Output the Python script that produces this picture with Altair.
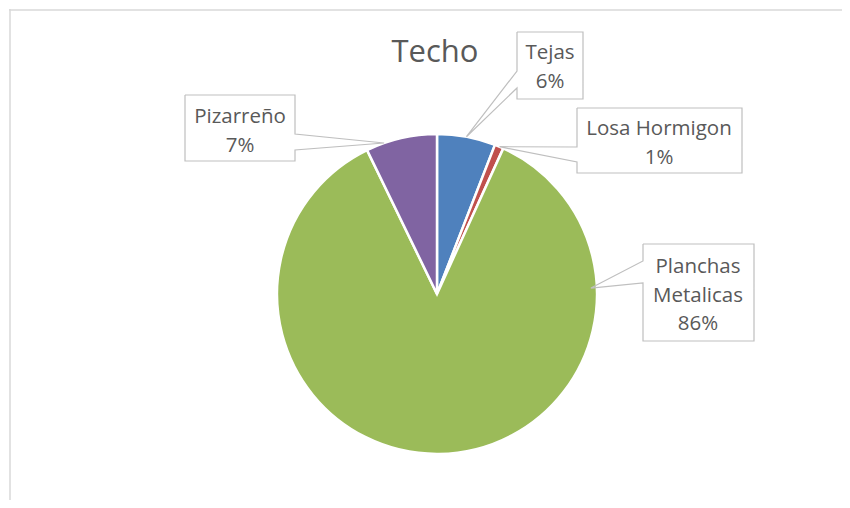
import math
import altair as alt
import pandas as pd

# ---- data ----
categories = ["Tejas", "Losa Hormigon", "Planchas Metalicas", "Pizarreño"]
values = [5.9, 0.9, 86.0, 7.2]
colors = ["#4F81BD", "#C0504D", "#9BBB59", "#8064A2"]
label_names = [["Tejas"], ["Losa Hormigon"], ["Planchas", "Metalicas"], ["Pizarreño"]]
title_text = "Techo"

# ---- layout (chart pixel coordinates) ----
W, H = 834, 492
CX, CY, R = 428, 285, 160
FONT = "Open Sans"
TXT = "#595959"
BOX = "#BFBFBF"
LINE_GAP = 28.5
layout = {
    "Tejas": dict(x0=508, x1=574, y0=23, y1=90, side="left", a=(62, 79), ang=10.6, r=160, base=50, cx=541),
    "Losa Hormigon": dict(x0=568, x1=733, y0=99, y1=164, side="left", a=(138, 153), ang=23.0, r=160, base=126, cx=650),
    "Planchas Metalicas": dict(x0=634, x1=745, y0=235, y1=332, side="left", a=(252, 274), ang=87.8, r=154, base=264, cx=689),
    "Pizarreño": dict(x0=176, x1=286, y0=86, y1=152, side="right", a=(125, 141), ang=340.7, r=160, base=114, cx=231),
}

total = sum(values)
pie_df = pd.DataFrame({"category": categories, "value": values, "idx": list(range(len(categories)))})

# callout outlines
path_rows = []
text_rows = []
for cat, val, names in zip(categories, values, label_names):
    L = layout[cat]
    ax = CX + L["r"] * math.sin(math.radians(L["ang"]))
    ay = CY - L["r"] * math.cos(math.radians(L["ang"]))
    x0, x1, y0, y1 = L["x0"], L["x1"], L["y0"], L["y1"]
    a1, a2 = L["a"]
    if L["side"] == "left":
        pts = [(x0, y0), (x1, y0), (x1, y1), (x0, y1), (x0, a2), (ax, ay), (x0, a1), (x0, y0)]
    else:
        pts = [(x0, y0), (x1, y0), (x1, a1), (ax, ay), (x1, a2), (x1, y1), (x0, y1), (x0, y0)]
    for i, (px, py) in enumerate(pts):
        path_rows.append({"label": cat, "o": i, "x": px, "y": py})
    lines = names + [f"{round(val / total * 100)}%"]
    for j, t in enumerate(lines):
        text_rows.append({"x": L["cx"], "y": L["base"] + j * LINE_GAP, "t": t})

path_df = pd.DataFrame(path_rows)
text_df = pd.DataFrame(text_rows)

xs = alt.Scale(domain=[0, W], range=[0, W], nice=False, zero=False)
ys = alt.Scale(domain=[0, H], range=[0, H], nice=False, zero=False)

pie = alt.Chart(pie_df).mark_arc(radius=R, stroke="white", strokeWidth=2.5).encode(
    theta=alt.Theta("value:Q", stack=True),
    color=alt.Color("category:N", scale=alt.Scale(domain=categories, range=colors), legend=None),
    order=alt.Order("idx:Q"),
    x=alt.value(CX),
    y=alt.value(CY),
)

callouts = alt.Chart(path_df).mark_line(color=BOX, strokeWidth=1.2).encode(
    x=alt.X("x:Q", scale=xs, axis=None),
    y=alt.Y("y:Q", scale=ys, axis=None),
    detail="label:N",
    order="o:Q",
)

labels = alt.Chart(text_df).mark_text(font=FONT, fontSize=20.5, color=TXT, baseline="alphabetic", align="center").encode(
    x=alt.X("x:Q", scale=xs, axis=None),
    y=alt.Y("y:Q", scale=ys, axis=None),
    text="t:N",
)

title = alt.Chart(pd.DataFrame({"x": [426], "y": [53], "t": [title_text]})).mark_text(
    font=FONT, fontSize=31, color=TXT, baseline="alphabetic", align="center"
).encode(
    x=alt.X("x:Q", scale=xs, axis=None),
    y=alt.Y("y:Q", scale=ys, axis=None),
    text="t:N",
)

border_top = alt.Chart(pd.DataFrame({"a": [0]})).mark_rule(color="#D9D9D9", strokeWidth=1.5).encode(
    x=alt.value(0), x2=alt.value(W), y=alt.value(1)
)
border_left = alt.Chart(pd.DataFrame({"a": [0]})).mark_rule(color="#D9D9D9", strokeWidth=1.5).encode(
    x=alt.value(1), y=alt.value(0), y2=alt.value(H)
)

chart = alt.layer(border_top, border_left, pie, callouts, labels, title).properties(
    width=W, height=H, padding=0,
    autosize=alt.AutoSizeParams(type="fit", contains="padding"),
).configure_view(stroke=None)

chart.save("out.html", embed_options={"renderer": "svg", "actions": False})
